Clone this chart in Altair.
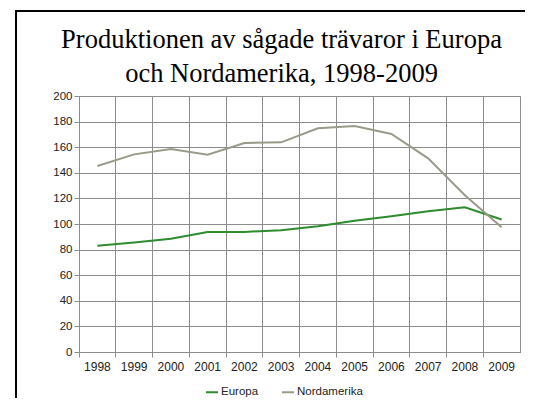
import altair as alt
import pandas as pd

years = [str(y) for y in range(1998, 2010)]
europa = [83, 85.6, 88.5, 93.7, 93.8, 95.2, 98.3, 102.5, 106, 110, 113, 103.5]
nordamerika = [145.3, 154.4, 158.6, 154.2, 163.3, 163.8, 174.8, 176.6, 170.3, 151.3, 122.5, 97.5]
series = ["Europa", "Nordamerika"]
colors = ["#2e8b2e", "#9a9a88"]
title_lines = ["Produktionen av sågade trävaror i Europa", "och Nordamerika, 1998-2009"]

rows = []
for name, vals in zip(series, [europa, nordamerika]):
    for y, v in zip(years, vals):
        rows.append({"year": y, "value": v, "series": name})
df = pd.DataFrame(rows)

W, H = 441, 256
SANS = "Liberation Sans"

lines = alt.Chart(df).mark_line(strokeWidth=2).encode(
    x=alt.X("year:O", sort=years,
            scale=alt.Scale(type="band", paddingInner=0, paddingOuter=0),
            axis=alt.Axis(title=None, labelAngle=0, bandPosition=0, grid=True,
                          gridColor="#8c8c8c", gridWidth=1,
                          domainColor="#8c8c8c", tickColor="#8c8c8c", tickSize=5,
                          labelPadding=4,
                          labelFont=SANS, labelFontSize=12, labelColor="#222222")),
    y=alt.Y("value:Q", scale=alt.Scale(domain=[0, 200], nice=False),
            axis=alt.Axis(title=None, values=list(range(0, 201, 20)), grid=True,
                          gridColor="#8c8c8c", gridWidth=1,
                          domainColor="#8c8c8c", tickColor="#8c8c8c", tickSize=5,
                          labelPadding=2,
                          labelFont=SANS, labelFontSize=11.5, labelColor="#222222")),
    color=alt.Color("series:N", scale=alt.Scale(domain=series, range=colors),
                    legend=alt.Legend(title=None, orient="none", direction="horizontal",
                                      legendX=126, legendY=289,
                                      symbolType="stroke", symbolSize=144, symbolStrokeWidth=2,
                                      labelFont=SANS, labelFontSize=11.5,
                                      labelColor="#222222", labelOffset=2, columnPadding=19)),
)

one = pd.DataFrame({"a": [0]})
border_left = alt.Chart(one).mark_rule(color="#000000", strokeWidth=2, clip=False).encode(
    x=alt.value(-63), y=alt.value(-85), y2=alt.value(330))
border_top = alt.Chart(one).mark_rule(color="#000000", strokeWidth=2, clip=False).encode(
    x=alt.value(-64), x2=alt.value(446), y=alt.value(-85))

title1 = alt.Chart(one).mark_text(
    font="Liberation Serif", fontSize=26.5, color="#000000",
    align="center", baseline="alphabetic", clip=False).encode(
    x=alt.value(202.5), y=alt.value(-48), text=alt.value(title_lines[0]))
title2 = alt.Chart(one).mark_text(
    font="Liberation Serif", fontSize=26.5, color="#000000",
    align="center", baseline="alphabetic", clip=False).encode(
    x=alt.value(202.5), y=alt.value(-14), text=alt.value(title_lines[1]))

chart = alt.layer(lines, border_left, border_top, title1, title2).properties(
    width=W, height=H,
    autosize=alt.AutoSizeParams(type="none"),
    padding={"left": 71, "top": 88, "right": 9, "bottom": 46},
).configure_view(stroke="#8c8c8c", strokeWidth=1)

chart.save("out.html", embed_options={"renderer": "svg", "actions": False})
